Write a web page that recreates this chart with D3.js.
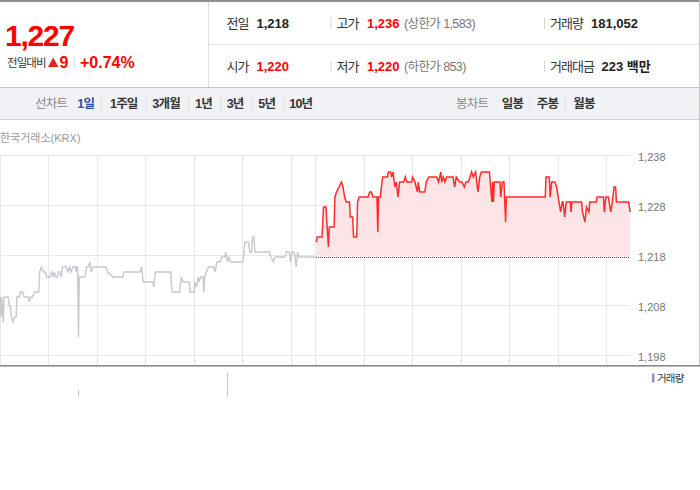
<!DOCTYPE html>
<html><head><meta charset="utf-8">
<script src="https://cdn.jsdelivr.net/npm/d3@7"></script>
<style>
body{margin:0;background:#fff}
svg{display:block}
text{font-family:"Liberation Sans",Arial,"Noto Sans CJK KR",sans-serif}
</style>
</head><body>
<svg id="c" width="700" height="490"></svg>
<script>
// ---------- data ----------
const prevTimes = [0,1,2,4,5,10,12,13,14,16,18,20,21,24,25,28,30,35,36,38,40,43,48,49,51,54,56,58,62,64,66,67,69,71,72,74,76,77,82,84,86,88,90,93,94,95,96,97,98,105,107,109,111,113,115,131,133,140,152,153,173,175,177,189,190,192,211,212,213,222,224,226,234,235,240,241,243,245,246,248,251,252,253,255,258,264,266,268,272,274,278,279,281,283,285,300,301,303,307,309,311,312,314,315,333,335,338,340,342,352,354,358,359,361,363,365,366,368,369,390];
const prevPrices = [1210,1206,1210,1205,1210,1210,1208,1208,1206,1205,1206,1206,1210,1210,1211,1211,1210,1210,1209,1210,1210,1211,1211,1215,1216,1215,1215,1214,1214,1215,1214,1215,1214,1214,1215,1215,1214,1216,1216,1215,1216,1215,1216,1216,1215,1216,1216,1202,1214,1214,1216,1216,1217,1215,1216,1216,1215,1214,1214,1215,1215,1216,1213,1213,1212,1215,1215,1212,1211,1211,1214,1213,1213,1211,1211,1213,1212,1214,1213,1214,1214,1211,1214,1215,1216,1216,1215,1217,1217,1218,1218,1219,1217,1218,1217,1217,1218,1221,1221,1219,1219,1222,1222,1219,1219,1218,1217,1218,1218,1218,1219,1219,1217,1219,1219,1218,1216,1219,1218,1218];
const todayTimes = [1,2,8,10,13,14,16,17,23,24,26,29,32,34,36,38,42,43,46,47,51,52,54,65,67,69,71,76,77,78,80,83,89,90,93,94,96,98,100,102,104,109,111,113,119,120,123,126,127,129,135,137,140,150,152,155,156,158,160,162,170,172,174,178,181,184,186,189,191,193,195,198,200,201,203,205,215,216,218,219,220,221,228,229,231,233,235,236,284,285,289,290,292,296,298,300,303,305,306,308,310,315,316,317,329,330,333,335,338,339,347,348,356,357,359,362,365,367,369,371,372,387,389];
const todayPrices = [1221,1222,1222,1228,1228,1225,1220,1224,1224,1230,1231,1232,1233,1232,1230,1229,1229,1226,1226,1222,1222,1229,1230,1230,1231,1231,1230,1230,1223,1230,1230,1234,1234,1235,1235,1234,1235,1232,1233,1230,1233,1233,1234,1233,1233,1234,1233,1231,1233,1231,1231,1233,1234,1234,1233,1235,1233,1234,1233,1234,1234,1232,1234,1233,1233,1232,1233,1233,1234,1235,1234,1235,1232,1231,1234,1235,1235,1233,1229,1233,1229,1233,1233,1230,1233,1233,1225,1230,1230,1234,1234,1230,1233,1233,1232,1230,1227,1229,1229,1226,1229,1229,1227,1229,1229,1227,1225,1228,1227,1229,1229,1230,1230,1227,1230,1230,1227,1229,1232,1232,1229,1229,1227];
// volume bars on the two-day minute axis (0..780)
const volumeTimes = [96, 280];
const volumeValues = [30000, 110000];
const priceTicks = [1198, 1208, 1218, 1228, 1238];
const hourTicks = [60,120,180,240,300,360,390,450,510,570,630,690,750];
const prevClose = 1218;
const sessionMinutes = 390;

const quote = {price:"1,227", change:"9", pct:"+0.74%"};
const row1 = [["전일","1,218","#222",""],["고가","1,236","#f00","(상한가 1,583)"],["거래량","181,052","#222",""]];
const row2 = [["시가","1,220","#f00",""],["저가","1,220","#f00","(하한가 853)"],["거래대금","223 백만","#222",""]];
const lineTabs = ["1일","1주일","3개월","1년","3년","5년","10년"];
const candleTabs = ["일봉","주봉","월봉"];

// ---------- drawing ----------
const svg = d3.select('#c');

// header frame
svg.append('rect').attr('x',0).attr('y',0).attr('width',700).attr('height',2).attr('fill','#8e8e8e');
svg.append('line').attr('x1',208.5).attr('x2',208.5).attr('y1',2).attr('y2',88).attr('stroke','#dedede');
svg.append('line').attr('x1',209).attr('x2',699).attr('y1',44.5).attr('y2',44.5).attr('stroke','#e6e6e6');
svg.append('rect').attr('x',0).attr('y',88).attr('width',700).attr('height',31).attr('fill','#f1f2f6');
svg.append('line').attr('x1',0).attr('x2',700).attr('y1',87.5).attr('y2',87.5).attr('stroke','#c4c4c4');
svg.append('line').attr('x1',0).attr('x2',700).attr('y1',119.5).attr('y2',119.5).attr('stroke','#d0d0d0');
svg.append('line').attr('x1',699.5).attr('x2',699.5).attr('y1',0).attr('y2',366).attr('stroke','#c4c4c4');

// big price
svg.append('text').attr('x',5).attr('y',46).attr('font-size',30).attr('font-weight','bold')
  .attr('letter-spacing',-1.2).attr('fill','#f00').text(quote.price);
svg.append('text').attr('x',7).attr('y',67).attr('font-size',11.5).attr('letter-spacing',-0.9)
  .attr('fill','#333').text('전일대비');
svg.append('path').attr('d','M48,67L53.2,57.5L58.4,67Z').attr('fill','#e8211f');
svg.append('text').attr('x',59.5).attr('y',67.6).attr('font-size',16).attr('font-weight','bold')
  .attr('fill','#f00').text(quote.change);
svg.append('line').attr('x1',74.5).attr('x2',74.5).attr('y1',57).attr('y2',68).attr('stroke','#ddd');
svg.append('text').attr('x',80).attr('y',67.6).attr('font-size',16).attr('font-weight','bold')
  .attr('fill','#f00').text(quote.pct);

// header grid values
const colX = [[226.5,256.5],[336.5,367],[550,591]];
function drawRow(row, base){
  row.forEach((r,i)=>{
    const [lx,vx] = colX[i];
    svg.append('text').attr('x',lx).attr('y',base).attr('font-size',13).attr('letter-spacing',-1)
      .attr('fill','#333').text(r[0]);
    const vxx = (i===2 && r[0].length===4) ? 601.5 : vx;
    svg.append('text').attr('x',vxx).attr('y',base).attr('font-size',13).attr('font-weight','bold')
      .attr('fill',r[2]).text(r[1]);
    if(r[3]) svg.append('text').attr('x',404).attr('y',base).attr('font-size',12.5).attr('letter-spacing',-0.6)
      .attr('fill','#777').text(r[3]);
    if(i>0) svg.append('line').attr('x1',colX[i][0]-5.5).attr('x2',colX[i][0]-5.5)
      .attr('y1',base-10).attr('y2',base+1).attr('stroke','#d5d5d5');
  });
}
drawRow(row1, 28);
drawRow(row2, 71);

// nav bar
svg.append('text').attr('x',35).attr('y',108).attr('font-size',12.5).attr('letter-spacing',-0.8)
  .attr('fill','#888').text('선차트');
const tabX = [77.3,110,152.3,195,226.7,258.3,289.3];
const sepX = [101,145.7,188.3,220,251.7,283.3];
lineTabs.forEach((t,i)=>{
  svg.append('text').attr('x',tabX[i]).attr('y',108).attr('font-size',12.5).attr('font-weight','bold')
    .attr('letter-spacing',-0.8).attr('fill', i===0 ? '#2b4ea3' : '#333').text(t);
});
sepX.forEach(x=>svg.append('line').attr('x1',x+0.5).attr('x2',x+0.5).attr('y1',98).attr('y2',110).attr('stroke','#dcdcdc'));
svg.append('text').attr('x',456).attr('y',108).attr('font-size',12.5).attr('letter-spacing',-0.8)
  .attr('fill','#888').text('봉차트');
const cX = [501.7,536.7,573.3];
candleTabs.forEach((t,i)=>{
  svg.append('text').attr('x',cX[i]).attr('y',108).attr('font-size',12.5).attr('font-weight','bold')
    .attr('letter-spacing',-0.8).attr('fill','#333').text(t);
});
[529.3,565].forEach(x=>svg.append('line').attr('x1',x+0.5).attr('x2',x+0.5).attr('y1',98).attr('y2',110).attr('stroke','#dcdcdc'));

// source label
svg.append('text').attr('x',0).attr('y',142).attr('font-size',11).attr('fill','#999').text('한국거래소(KRX)');

// ---------- chart ----------
const x = d3.scaleLinear().domain([0, sessionMinutes*2]).range([0, 631]);
const y = d3.scaleLinear().domain([1198, 1238]).range([355.7, 155.7]);
const px = v => Math.floor(v) + 0.5;

const grid = svg.append('g');
priceTicks.forEach(t=>{
  grid.append('line').attr('x1',0).attr('x2',630).attr('y1',px(y(t))).attr('y2',px(y(t))).attr('stroke','#e8e8e8');
});
[0, ...hourTicks].forEach(t=>{
  grid.append('line').attr('x1',px(x(t))).attr('x2',px(x(t))).attr('y1',155.5).attr('y2',365).attr('stroke','#e8e8e8');
});

// axis labels
const yAxis = d3.axisRight(y).tickValues(priceTicks).tickSize(0).tickPadding(0).tickFormat(d3.format(','));
const ya = svg.append('g').attr('transform','translate(638,1)').call(yAxis);
ya.select('.domain').remove();
ya.selectAll('text').attr('font-size',11).attr('fill','#777').attr('font-family','"Liberation Sans",Arial,sans-serif');

const prevData = d3.zip(prevTimes, prevPrices).map(([t,p])=>({t, p}));
const todayData = d3.zip(todayTimes, todayPrices).map(([t,p])=>({t: t + sessionMinutes, p}));

const dg = svg.append('g').attr('transform','translate(0,1.3)');
const area = d3.area().x(d=>x(d.t)).y0(y(prevClose)).y1(d=>y(d.p));
const line = d3.line().x(d=>x(d.t)).y(d=>y(d.p));

dg.append('path').datum(todayData).attr('d',area).attr('fill','#fde5e7');
dg.append('path').datum(prevData).attr('d',line).attr('fill','none').attr('stroke','#c6c8cd').attr('stroke-width',1.4);
dg.append('path').datum(todayData).attr('d',line).attr('fill','none').attr('stroke','#ff2b2b').attr('stroke-width',1.5);

// previous close dotted reference
const baseY = px(y(prevClose) + 1.3);
svg.append('line').attr('x1',Math.round(x(sessionMinutes))).attr('x2',630).attr('y1',baseY).attr('y2',baseY)
  .attr('stroke','#555').attr('stroke-width',1).attr('stroke-dasharray','1,1');

// bottom axis line
svg.append('rect').attr('x',0).attr('y',365).attr('width',700).attr('height',1.6).attr('fill','#8a8a8a');

// volume
const vy = d3.scaleLinear().domain([0, d3.max(volumeValues)]).range([397, 372.3]);
svg.append('g').selectAll('rect').data(d3.zip(volumeTimes, volumeValues)).join('rect')
  .attr('x', d=>Math.round(x(d[0]))).attr('y', d=>vy(d[1])).attr('width',1).attr('height', d=>397-vy(d[1]))
  .attr('fill','#c4c4d2');

// legend
svg.append('rect').attr('x',652).attr('y',373.5).attr('width',2.5).attr('height',9).attr('fill','#9a8cc6');
svg.append('text').attr('x',657).attr('y',382).attr('font-size',10.5).attr('letter-spacing',-0.8)
  .attr('fill','#333').text('거래량');
</script>
</body></html>
